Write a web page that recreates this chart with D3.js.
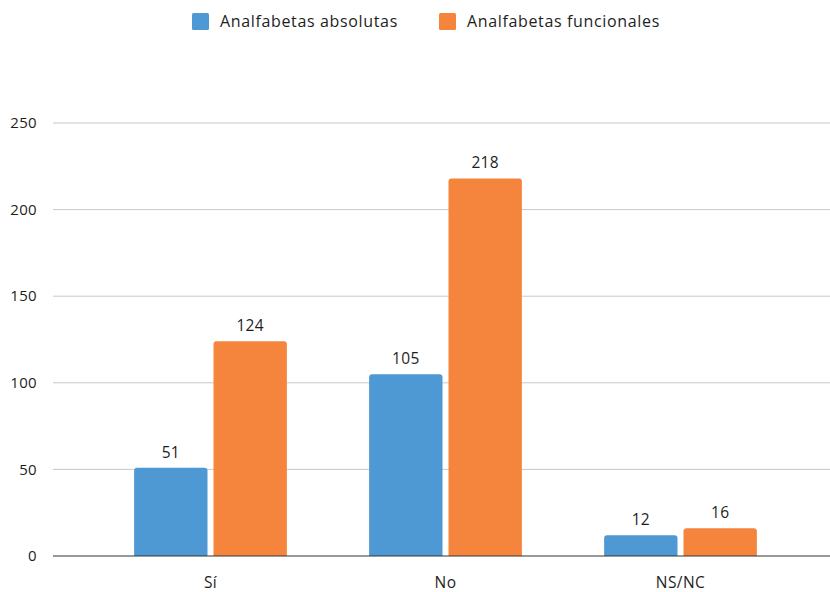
<!DOCTYPE html>
<html>
<head>
<meta charset="utf-8">
<script src="https://cdn.jsdelivr.net/npm/d3@7"></script>
<style>
  body { margin: 0; background: #fff; }
  text { font-family: "Open Sans", "Noto Sans", sans-serif; fill: #1e1e1e; }
</style>
</head>
<body>
<div id="vis"></div>
<script>
// data
var categories = ['Sí', 'No', 'NS/NC'];
var seriesNames = ['Analfabetas absolutas', 'Analfabetas funcionales'];
var absolutas = [51, 105, 12];
var funcionales = [124, 218, 16];
var yTicks = [0, 50, 100, 150, 200, 250];

var width = 830;
var height = 592;
var colors = ['#4e99d4', '#f5843d'];

var svg = d3.select('#vis').append('svg')
  .attr('width', width)
  .attr('height', height);

var x0 = d3.scaleBand()
  .domain(categories)
  .range([93, 798])
  .paddingInner(0.35)
  .paddingOuter(0.175);

var x1 = d3.scaleBand()
  .domain(seriesNames)
  .range([0, x0.bandwidth()])
  .paddingInner(0.0755);

var y = d3.scaleLinear()
  .domain([0, 250])
  .range([556, 123]);

// gridlines
svg.append('g').selectAll('line')
  .data(yTicks.filter(function (d) { return d > 0; }))
  .enter().append('line')
  .attr('x1', 53).attr('x2', width)
  .attr('y1', function (d) { return y(d); })
  .attr('y2', function (d) { return y(d); })
  .attr('stroke', '#c8c8c8')
  .attr('stroke-width', 1);

// y labels
svg.append('g').selectAll('text')
  .data(yTicks)
  .enter().append('text')
  .attr('x', 37)
  .attr('y', function (d) { return y(d); })
  .attr('dy', '0.35em')
  .attr('text-anchor', 'end')
  .style('font-size', '15px')
  .style('letter-spacing', '0.3px')
  .text(function (d) { return d; });

var rows = categories.map(function (c, i) {
  return { cat: c, values: [absolutas[i], funcionales[i]] };
});

var groups = svg.append('g').selectAll('g')
  .data(rows)
  .enter().append('g')
  .attr('transform', function (d) { return 'translate(' + x0(d.cat) + ',0)'; });

function barPath(x, w, top, bottom, r) {
  return 'M' + x + ',' + bottom +
    'V' + (top + r) +
    'Q' + x + ',' + top + ' ' + (x + r) + ',' + top +
    'H' + (x + w - r) +
    'Q' + (x + w) + ',' + top + ' ' + (x + w) + ',' + (top + r) +
    'V' + bottom + 'Z';
}

groups.selectAll('path')
  .data(function (d) {
    return d.values.map(function (v, j) { return { name: seriesNames[j], value: v, j: j }; });
  })
  .enter().append('path')
  .attr('d', function (d) {
    return barPath(x1(d.name), x1.bandwidth(), y(d.value), y(0), 3);
  })
  .attr('fill', function (d) { return colors[d.j]; });

groups.selectAll('text.val')
  .data(function (d) {
    return d.values.map(function (v, j) { return { name: seriesNames[j], value: v }; });
  })
  .enter().append('text')
  .attr('class', 'val')
  .attr('x', function (d) { return x1(d.name) + x1.bandwidth() / 2; })
  .attr('y', function (d) { return y(d.value) - 10; })
  .attr('text-anchor', 'middle')
  .style('font-size', '15.5px')
  .style('letter-spacing', '0.3px')
  .text(function (d) { return d.value; });

// baseline
svg.append('line')
  .attr('x1', 53).attr('x2', width)
  .attr('y1', y(0)).attr('y2', y(0))
  .attr('stroke', '#333')
  .attr('stroke-width', 1.2);

// x labels
svg.append('g').selectAll('text')
  .data(categories)
  .enter().append('text')
  .attr('x', function (d) { return x0(d) + x0.bandwidth() / 2; })
  .attr('y', 588)
  .attr('text-anchor', 'middle')
  .style('font-size', '15.5px')
  .style('letter-spacing', '0.4px')
  .text(function (d) { return d; });

// legend
var legendX = [192, 439];
var legend = svg.append('g').selectAll('g')
  .data(seriesNames)
  .enter().append('g')
  .attr('transform', function (d, i) { return 'translate(' + legendX[i] + ',13)'; });

legend.append('rect')
  .attr('width', 17).attr('height', 17).attr('rx', 1.5)
  .attr('fill', function (d, i) { return colors[i]; });

legend.append('text')
  .attr('x', 28)
  .attr('y', 8.5)
  .attr('dy', '0.35em')
  .style('font-size', '16px')
  .style('letter-spacing', '0.65px')
  .text(function (d) { return d; });
</script>
</body>
</html>
